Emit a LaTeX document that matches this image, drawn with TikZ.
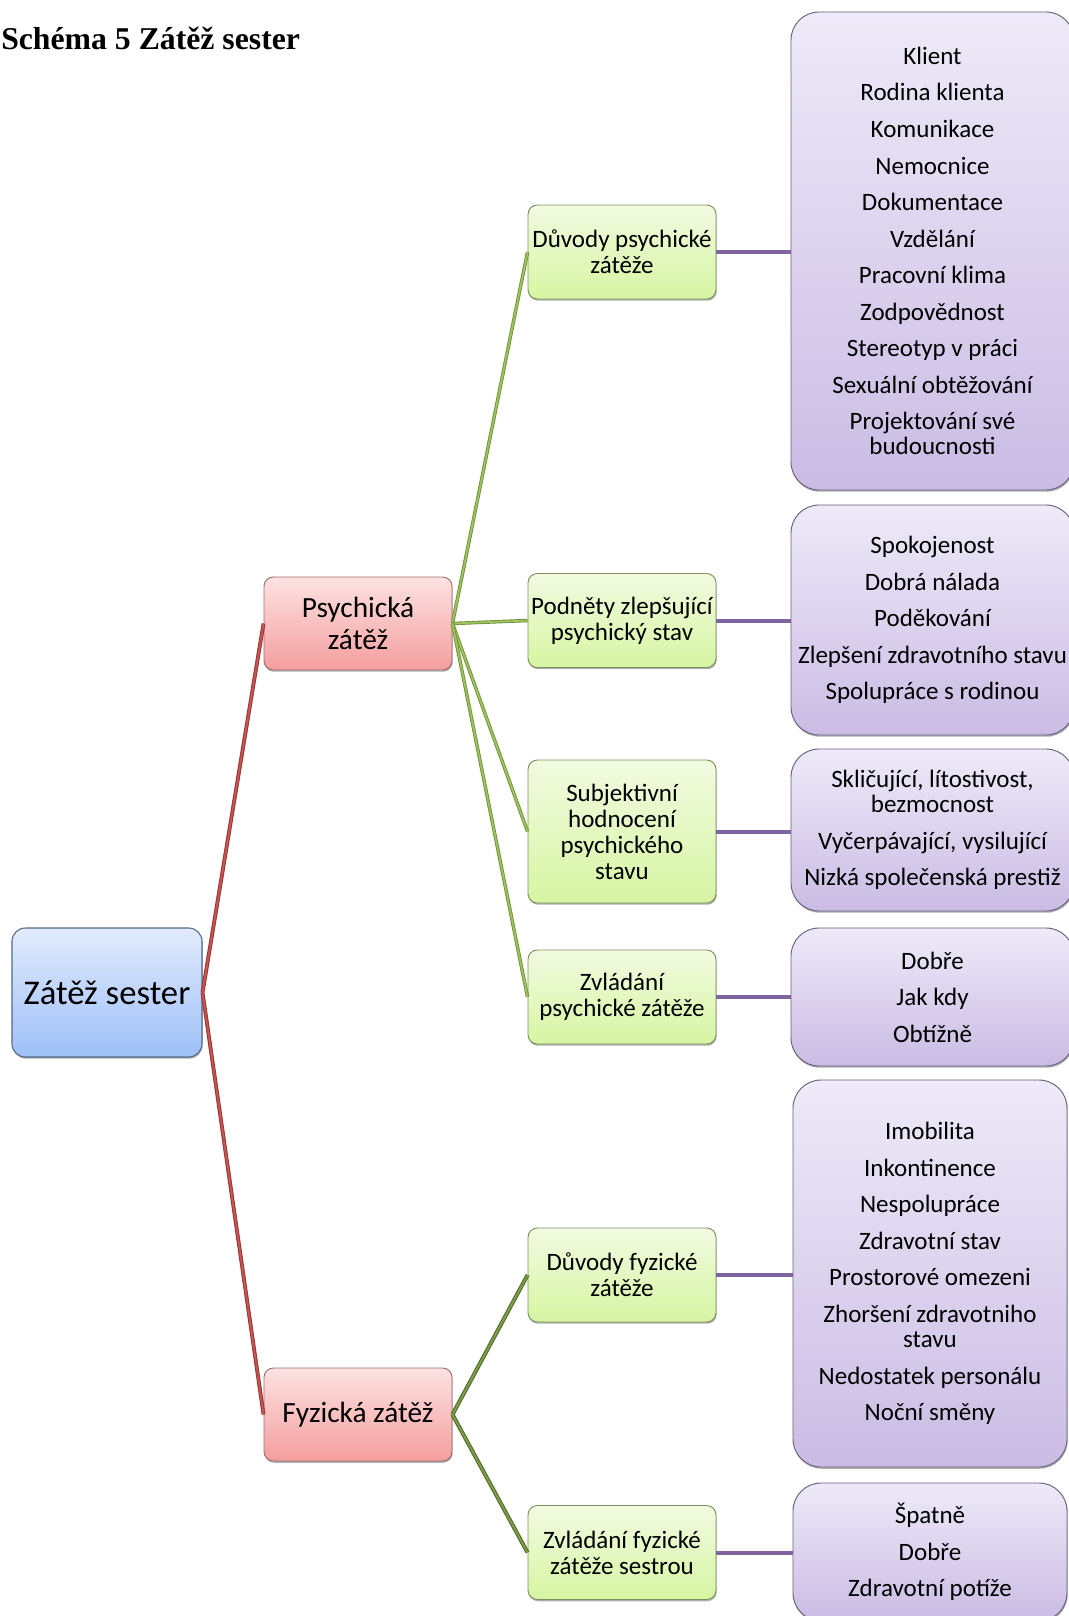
\documentclass[tikz,border=0pt]{standalone}
\usepackage{fontspec}
\setmainfont{Carlito}
\newfontfamily\titlefont{Liberation Serif}
\usetikzlibrary{shadows}

\definecolor{redline}{RGB}{200,85,82}
\definecolor{redlinedk}{RGB}{150,55,52}
\definecolor{grnline}{RGB}{160,195,95}
\definecolor{grnlinedk}{RGB}{112,145,60}
\definecolor{fyzline}{RGB}{125,160,70}
\definecolor{fyzlinedk}{RGB}{80,105,45}
\definecolor{purline}{RGB}{128,100,162}
\definecolor{purlinedk}{RGB}{100,78,130}

\tikzset{
  boxshadow/.style={drop shadow={shadow xshift=0.5pt,shadow yshift=-1.3pt,opacity=0.45,fill=black!70}},
  rootbox/.style={boxshadow, rounded corners=10pt, draw={rgb,255:red,85;green,105;blue,135}, line width=0.8pt,
    top color={rgb,255:red,226;green,235;blue,252}, bottom color={rgb,255:red,158;green,192;blue,248},
    minimum width=142.5pt, minimum height=96.75pt, inner sep=0pt, align=center,
    font=\fontsize{26pt}{30pt}\selectfont},
  pinkbox/.style={boxshadow, rounded corners=7pt, draw={rgb,255:red,160;green,110;blue,110}, line width=0.7pt,
    top color={rgb,255:red,253;green,226;blue,226}, bottom color={rgb,255:red,244;green,158;blue,158},
    minimum width=141pt, minimum height=69.75pt, inner sep=0pt, align=center,
    font=\fontsize{22pt}{24pt}\selectfont},
  grnbox/.style={boxshadow, rounded corners=7pt, draw={rgb,255:red,125;green,145;blue,95}, line width=0.7pt,
    top color={rgb,255:red,242;green,251;blue,225}, bottom color={rgb,255:red,214;green,245;blue,162},
    minimum width=141pt, minimum height=70.5pt, inner sep=0pt, align=center,
    font=\fontsize{18.75pt}{19.5pt}\selectfont},
  purbox/.style={boxshadow, rounded corners=21pt, draw={rgb,255:red,105;green,95;blue,125}, line width=0.7pt,
    top color={rgb,255:red,238;green,234;blue,248}, bottom color={rgb,255:red,202;green,188;blue,228},
    inner sep=0pt, align=center,
    font=\fontsize{18.75pt}{18.75pt}\selectfont},
  redconn/.style={draw=redlinedk, line width=2.9pt, postaction={draw=redline, line width=1.4pt}},
  grnconn/.style={draw=grnlinedk, line width=2.6pt, postaction={draw=grnline, line width=1.3pt}},
  fyzconn/.style={draw=fyzlinedk, line width=3pt, postaction={draw=fyzline, line width=1.4pt}},
  purconn/.style={draw=purline, line width=3pt},
}

\begin{document}
\begin{tikzpicture}[x=0.75pt,y=-0.75pt]
\useasboundingbox (0,0) rectangle (1069,1616);
\clip (0,0) rectangle (1069,1616);

\node[anchor=base west, inner sep=0pt, font=\titlefont\bfseries\fontsize{23.8pt}{28pt}\selectfont] (title) at (1,50) {Schéma 5 Zátěž sester};

% root
\node[rootbox] (root) at (107,992.5) {Zátěž sester};

% level 1
\node[pinkbox] (psy) at (358,623.5) {Psychická\\zátěž};
\node[pinkbox] (fyz) at (358,1414.5) {Fyzická zátěž};

% level 2
\node[grnbox] (g1) at (622,252) {Důvody psychické\\zátěže};
\node[grnbox] (g2) at (622,620.5) {Podněty zlepšující\\psychický stav};
\node[grnbox, minimum height=107.25pt] (g3) at (622,831.5) {Subjektivní\\hodnocení\\psychického\\stavu};
\node[grnbox] (g4) at (622,997) {Zvládání\\psychické zátěže};
\node[grnbox] (g5) at (622,1275) {Důvody fyzické\\zátěže};
\node[grnbox] (g6) at (622,1552.5) {Zvládání fyzické\\zátěže sestrou};

% level 3
\node[purbox, minimum width=212.25pt, minimum height=358.5pt] (p1) at (932.5,251)
  {Klient\\[8.65pt] Rodina klienta\\[8.65pt] Komunikace\\[8.65pt] Nemocnice\\[8.65pt] Dokumentace\\[8.65pt] Vzdělání\\[8.65pt] Pracovní klima\\[8.65pt] Zodpovědnost\\[8.65pt] Stereotyp v práci\\[8.65pt] Sexuální obtěžování\\[8.65pt] Projektování své\\ budoucnosti};
\node[purbox, minimum width=212.25pt, minimum height=172.5pt] (p2) at (932.5,620)
  {Spokojenost\\[8.65pt] Dobrá nálada\\[8.65pt] Poděkování\\[8.65pt] Zlepšení zdravotního stavu\\[8.65pt] Spolupráce s rodinou};
\node[purbox, minimum width=212.25pt, minimum height=121.5pt] (p3) at (932.5,830)
  {Skličující, lítostivost,\\ bezmocnost\\[8.65pt] Vyčerpávající, vysilující\\[8.65pt] Nizká společenská prestiž};
\node[purbox, minimum width=212.25pt, minimum height=103.5pt] (p4) at (932.5,997)
  {Dobře\\[8.65pt] Jak kdy\\[8.65pt] Obtížně};
\node[purbox, minimum width=205.5pt, minimum height=290.25pt] (p5) at (930,1273.5)
  {Imobilita\\[8.65pt] Inkontinence\\[8.65pt] Nespolupráce\\[8.65pt] Zdravotní stav\\[8.65pt] Prostorové omezeni\\[8.65pt] Zhoršení zdravotniho\\ stavu\\[8.65pt] Nedostatek personálu\\[8.65pt] Noční směny};
\node[purbox, minimum width=205.5pt, minimum height=103.5pt] (p6) at (930,1552)
  {Špatně\\[8.65pt] Dobře\\[8.65pt] Zdravotní potíže};

% connectors
\draw[redconn] (root.east) -- (psy.west);
\draw[redconn] (root.east) -- (fyz.west);
\foreach \g in {g1,g2,g3,g4} \draw[grnconn] (psy.east) -- (\g.west);
\foreach \g in {g5,g6} \draw[fyzconn] (fyz.east) -- (\g.west);
\draw[purconn] (g1.east) -- (g1.east -| p1.west);
\draw[purconn] (g2.east) -- (g2.east -| p2.west);
\draw[purconn] (g3.east) -- (g3.east -| p3.west);
\draw[purconn] (g4.east) -- (g4.east -| p4.west);
\draw[purconn] (g5.east) -- (g5.east -| p5.west);
\draw[purconn] (g6.east) -- (g6.east -| p6.west);
\end{tikzpicture}
\end{document}
